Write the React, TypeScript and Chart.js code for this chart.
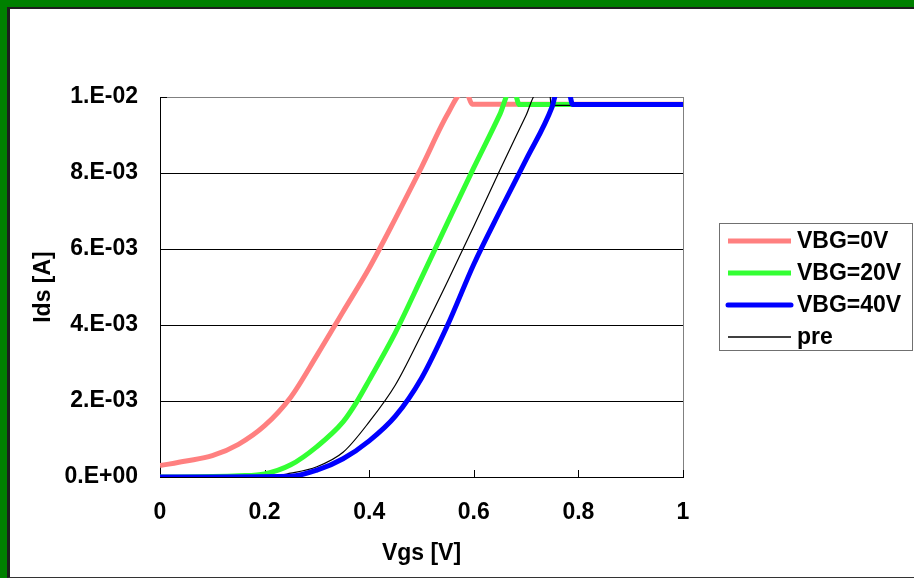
import React, { useEffect, useRef } from 'react';
import { Chart, registerables } from 'chart.js';

Chart.register(...registerables);

const FONT = '"Liberation Sans", Arial, Helvetica, sans-serif';

// ---- data ----
const seriesLabels = ['VBG=0V', 'VBG=20V', 'VBG=40V', 'pre'];
const seriesColors = ['#ff8080', '#33ff33', '#0000ff', '#000000'];

const vbg0X = [0, 0.05, 0.1, 0.15, 0.2, 0.25, 0.3, 0.35, 0.4, 0.45, 0.5, 0.55, 0.578, 0.586, 0.597, 0.7, 0.8, 0.9, 1.0];
const vbg0Y = [3.0e-4, 4.2e-4, 5.6e-4, 8.6e-4, 1.35e-3, 2.1e-3, 3.2e-3, 4.35e-3, 5.5e-3, 6.8e-3, 8.15e-3, 9.55e-3, 1.01e-2, 1.01e-2, 9.81e-3, 9.81e-3, 9.81e-3, 9.81e-3, 9.81e-3];

const vbg20X = [0, 0.1, 0.15, 0.2, 0.25, 0.3, 0.35, 0.375, 0.4, 0.45, 0.5, 0.55, 0.6, 0.65, 0.668, 0.678, 0.687, 0.8, 1.0];
const vbg20Y = [0, 1e-5, 3e-5, 8e-5, 3.2e-4, 8.0e-4, 1.45e-3, 1.95e-3, 2.55e-3, 3.8e-3, 5.24e-3, 6.7e-3, 8.14e-3, 9.55e-3, 1.01e-2, 1.01e-2, 9.8e-3, 9.8e-3, 9.8e-3];

const vbg40X = [0, 0.25, 0.3, 0.35, 0.4, 0.45, 0.5, 0.55, 0.6, 0.65, 0.7, 0.75, 0.758, 0.782, 0.789, 0.9, 1.0];
const vbg40Y = [0, 2e-5, 1.8e-4, 4.8e-4, 9.5e-4, 1.6e-3, 2.6e-3, 4.0e-3, 5.6e-3, 7.0e-3, 8.35e-3, 9.75e-3, 1.01e-2, 1.01e-2, 9.8e-3, 9.8e-3, 9.8e-3];

const preX = [0, 0.2, 0.25, 0.3, 0.35, 0.4, 0.45, 0.5, 0.55, 0.6, 0.65, 0.7, 0.72, 0.745, 0.748, 0.9, 1.0];
const preY = [0, 0, 1e-4, 2.7e-4, 6.5e-4, 1.45e-3, 2.42e-3, 3.75e-3, 5.15e-3, 6.6e-3, 8.08e-3, 9.52e-3, 1.01e-2, 1.01e-2, 9.78e-3, 9.78e-3, 9.78e-3];

const xTickLabels = ['0', '0.2', '0.4', '0.6', '0.8', '1'];
const yTickLabels = ['0.E+00', '2.E-03', '4.E-03', '6.E-03', '8.E-03', '1.E-02'];

const xTitle = 'Vgs [V]';
const yTitle = 'Ids [A]';

function pts(xs: number[], ys: number[]) {
  return xs.map((x, i) => ({ x, y: ys[i] }));
}

const insideTicks = {
  id: 'insideTicks',
  beforeDatasetsDraw(chart: any) {
    const { ctx, chartArea, scales } = chart;
    ctx.save();
    ctx.strokeStyle = '#000';
    ctx.lineWidth = 1;
    ctx.beginPath();
    scales.x.ticks.forEach((t: any) => {
      const px = Math.round(scales.x.getPixelForValue(t.value)) + 0.5;
      ctx.moveTo(px, chartArea.bottom);
      ctx.lineTo(px, chartArea.bottom - 7);
    });
    scales.y.ticks.forEach((t: any) => {
      const py = Math.round(scales.y.getPixelForValue(t.value)) + 0.5;
      ctx.moveTo(chartArea.left, py);
      ctx.lineTo(chartArea.left + 7, py);
    });
    ctx.stroke();
    ctx.restore();
  },
};

const boxedLegend = {
  id: 'boxedLegend',
  afterDraw(chart: any) {
    const { ctx } = chart;
    ctx.save();
    ctx.strokeStyle = '#707070';
    ctx.lineWidth = 1;
    ctx.strokeRect(719.5, 223.5, 193, 127);
    chart.data.datasets.forEach((ds: any, i: number) => {
      const y = 241 + i * 32;
      ctx.beginPath();
      ctx.strokeStyle = ds.borderColor;
      ctx.lineWidth = ds.legendWidth;
      ctx.lineCap = i === 2 ? 'round' : 'butt';
      ctx.moveTo(728, y);
      ctx.lineTo(791, y);
      ctx.stroke();
      ctx.fillStyle = '#000';
      ctx.font = `bold 23px ${FONT}`;
      ctx.textBaseline = 'middle';
      ctx.textAlign = 'left';
      ctx.fillText(ds.label, 797, y + 1);
    });
    ctx.restore();
  },
};

export default function App() {
  const ref = useRef<HTMLCanvasElement | null>(null);

  useEffect(() => {
    if (!ref.current) return;
    const xsList = [vbg0X, vbg20X, vbg40X, preX];
    const ysList = [vbg0Y, vbg20Y, vbg40Y, preY];
    const widths = [5, 5, 5, 1.2];
    const legendWidths = [5, 5, 5, 1.5];
    const orders = [3, 2, 0, 1];
    const chart = new Chart(ref.current, {
      type: 'line',
      data: {
        datasets: seriesLabels.map((label, i) => ({
          label,
          data: pts(xsList[i], ysList[i]),
          borderColor: seriesColors[i],
          backgroundColor: seriesColors[i],
          borderWidth: widths[i],
          legendWidth: legendWidths[i],
          pointRadius: 0,
          cubicInterpolationMode: 'monotone',
          fill: false,
          clip: 0,
          order: orders[i],
        })) as any,
      },
      options: {
        responsive: false,
        animation: false,
        events: [],
        layout: { padding: { left: 10, top: 97, right: 231, bottom: 0 } },
        plugins: {
          legend: { display: false },
          tooltip: { enabled: false },
          title: { display: false },
        },
        scales: {
          x: {
            type: 'linear',
            min: 0,
            max: 1,
            afterFit: (s: any) => { s.height = 101; },
            ticks: {
              stepSize: 0.2,
              padding: 22,
              color: '#000',
              font: { family: FONT, size: 23, weight: 'bold' },
              callback: (_v: any, i: number) => xTickLabels[i],
              maxRotation: 0,
            },
            grid: {
              drawTicks: false,
              color: (c: any) => (c.tick && c.tick.value === 1 ? '#808080' : 'rgba(0,0,0,0)'),
              lineWidth: 1,
            },
            border: { display: true, color: '#000', width: 1 },
            title: {
              display: true,
              text: xTitle,
              color: '#000',
              font: { family: FONT, size: 23, weight: 'bold' },
              padding: { top: 0, bottom: 11 },
            },
          },
          y: {
            type: 'linear',
            min: 0,
            max: 0.01,
            afterFit: (s: any) => { s.width = 150; },
            ticks: {
              stepSize: 0.002,
              padding: 22,
              color: '#000',
              font: { family: FONT, size: 23, weight: 'bold' },
              callback: (_v: any, i: number) => yTickLabels[i],
            },
            grid: {
              drawTicks: false,
              color: (c: any) => (c.tick && Math.abs(c.tick.value - 0.01) < 1e-9 ? '#808080' : '#000'),
              lineWidth: 1,
            },
            border: { display: true, color: '#000', width: 1 },
            title: {
              display: true,
              text: yTitle,
              color: '#000',
              font: { family: FONT, size: 23, weight: 'bold' },
              padding: { top: 20, bottom: 0 },
            },
          },
        },
      } as any,
      plugins: [insideTicks, boxedLegend],
    });
    return () => chart.destroy();
  }, []);

  return (
    <>
      <div
        style={{
          position: 'fixed',
          left: 0,
          top: 0,
          width: 914,
          height: 578,
          boxSizing: 'border-box',
          borderTop: '7px solid #008000',
          borderLeft: '7px solid #008000',
          background: '#fff',
        }}
      >
        <div
          style={{
            width: '100%',
            height: '100%',
            boxSizing: 'border-box',
            borderTop: '2px solid #1e1e1e',
            borderLeft: '3px solid #1e1e1e',
            borderBottom: '1px solid #333',
          }}
        />
      </div>
      <canvas
        ref={ref}
        width={914}
        height={578}
        style={{ position: 'fixed', left: 0, top: 0, width: 914, height: 578, display: 'block' }}
      />
    </>
  );
}
